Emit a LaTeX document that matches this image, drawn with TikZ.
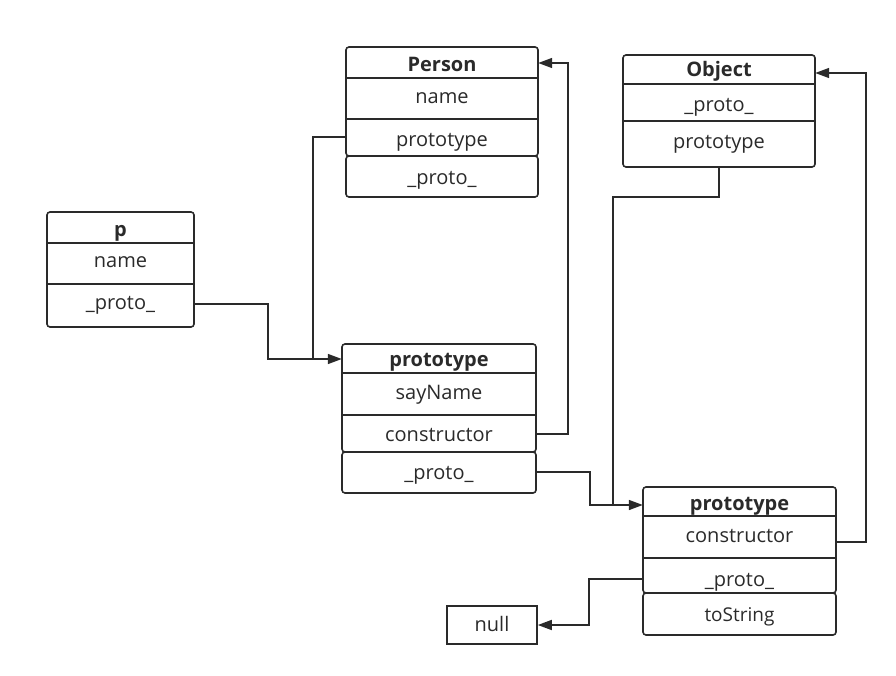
\documentclass[tikz,border=0pt]{standalone}
\usepackage{fontspec}
\setmainfont{Open Sans}
\usetikzlibrary{arrows.meta}
\definecolor{ink}{HTML}{2A2A2A}
\tikzset{
  x=1pt, y=-1pt,
  every node/.style={text=ink},
  boxr/.style={draw=ink, line width=1.6pt, rounded corners=3pt, inner sep=0pt},
  boxs/.style={draw=ink, line width=1.6pt, inner sep=0pt},
  sepline/.style={draw=ink, line width=1.6pt},
  % text rows: node centre sits on the middle of the x-height
  row/.style={inner sep=0pt, text height=15pt, text depth=4.3pt,
              font=\fontsize{20}{22}\selectfont},
  ttl/.style={row, font=\fontsize{20}{22}\selectfont\bfseries},
  small/.style={inner sep=0pt, text height=14.5pt, text depth=4.3pt,
                font=\fontsize{19}{21}\selectfont},
  link/.style={draw=ink, line width=1.6pt},
  arr/.style={link, -{Triangle[length=14pt,width=10pt]}},
}
\begin{document}
\begin{tikzpicture}
\useasboundingbox (0,0) rectangle (896,676);

% ---- p ----
\node[boxr, minimum width=147pt, minimum height=115pt] (pBox) at (120.5,269.5) {};
\draw[sepline] (47,243) -- (194,243);
\draw[sepline] (47,284) -- (194,284);
\node[ttl, minimum width=147pt] (pT) at (120.5,231) {p};
\node[row, minimum width=147pt] (pName) at (120.5,262) {name};
\node[row, minimum width=147pt] (pProto) at (120.5,304) {\_proto\_};

% ---- Person ----
\node[boxr, minimum width=192pt, minimum height=109pt] (personBox) at (442,101.5) {};
\node[boxr, minimum width=192pt, minimum height=41pt] (personLow) at (442,176.5) {};
\draw[sepline] (346,78) -- (538,78);
\draw[sepline] (346,119) -- (538,119);
\node[ttl, minimum width=192pt] (personT) at (442,66) {Person};
\node[row, minimum width=192pt] (personName) at (442,98) {name};
\node[row, minimum width=192pt] (personProto) at (442,141) {prototype};
\node[row, minimum width=192pt] (personUp) at (442,179) {\_proto\_};

% ---- Person prototype ----
\node[boxr, minimum width=194pt, minimum height=108pt] (mBox) at (439,398) {};
\node[boxr, minimum width=194pt, minimum height=41pt] (mLow) at (439,472.5) {};
\draw[sepline] (342,373) -- (536,373);
\draw[sepline] (342,415) -- (536,415);
\node[ttl, minimum width=194pt] (mT) at (439,361) {prototype};
\node[row, minimum width=194pt] (mSay) at (439,394) {sayName};
\node[row, minimum width=194pt] (mCons) at (439,436) {constructor};
\node[row, minimum width=194pt] (mProto) at (439,474) {\_proto\_};

% ---- Object ----
\node[boxr, minimum width=192pt, minimum height=112pt] (oBox) at (719,111) {};
\draw[sepline] (623,84) -- (815,84);
\draw[sepline] (623,121) -- (815,121);
\node[ttl, minimum width=192pt] (oT) at (719,71) {Object};
\node[row, minimum width=192pt] (oProto) at (719,106) {\_proto\_};
\node[row, minimum width=192pt] (oPrototype) at (719,143) {prototype};

% ---- Object prototype ----
\node[boxr, minimum width=193pt, minimum height=106pt] (bBox) at (739.5,540) {};
\node[boxr, minimum width=193pt, minimum height=42pt] (bLow) at (739.5,614) {};
\draw[sepline] (643,516) -- (836,516);
\draw[sepline] (643,558) -- (836,558);
\node[ttl, minimum width=193pt] (bT) at (739.5,505) {prototype};
\node[row, minimum width=193pt] (bCons) at (739.5,537.5) {constructor};
\node[row, minimum width=193pt] (bProto) at (739.5,581) {\_proto\_};
\node[small, minimum width=193pt] (bTo) at (739.5,616.5) {toString};

% ---- null ----
\node[boxs, minimum width=90pt, minimum height=38pt] (nullBox) at (492,625) {};
\node[row] (nullT) at (492,626) {null};

% ---- links ----
\coordinate (j1) at (313,359);
\coordinate (j2) at (613,505);
\draw[arr] (pProto.east) -- (268,304) -- (268,359) -- ([yshift=2pt]mT.west);
\draw[link] ([yshift=4pt]personProto.west) -| (j1);
\draw[arr] ([yshift=2pt]mCons.east) -- (568,434) -- (568,63) -- ([yshift=3pt]personT.east);
\draw[arr] ([yshift=2pt]mProto.east) -- (590,472) -- (590,505) -- (bT.west);
\draw[link] (oBox.south) -- (719,197) -| (j2);
\draw[arr] ([yshift=-4.5pt]bCons.east) -- (866,542) -- (866,73) -- ([yshift=-2pt]oT.east);
\draw[arr] ([yshift=2pt]bProto.west) -- (589,579) -- (589,625) -- (nullBox.east);
\end{tikzpicture}
\end{document}
